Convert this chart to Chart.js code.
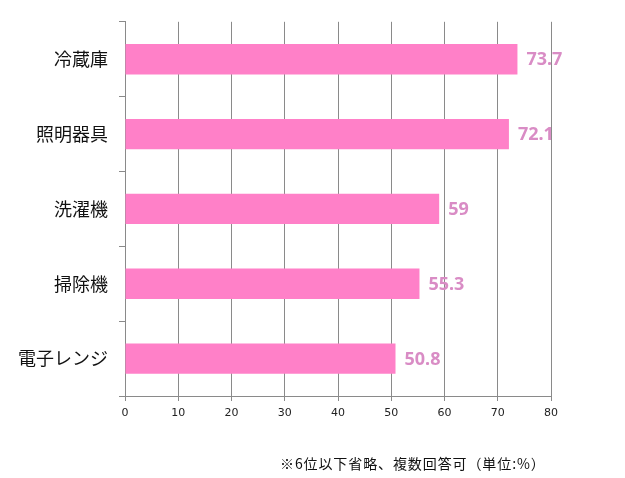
<!DOCTYPE html>
<html>
  <head>
    <title>家電ランキング</title>
    <script src="https://cdn.jsdelivr.net/npm/chart.js@4/dist/chart.umd.min.js"></script>
    <style>
      body {
        margin: 0;
        background: #fff;
      }
      #wrap {
        position: relative;
        width: 625px;
        height: 478px;
      }
      #note {
        position: absolute;
        left: 280px;
        top: 454px;
        font-family: "Noto Sans CJK JP", sans-serif;
        font-size: 14px;
        letter-spacing: 0.9px;
        line-height: 18px;
        color: #111;
        white-space: nowrap;
      }
    </style>
  </head>
  <body>
    <div id="wrap">
      <canvas id="myChart" width="625" height="478"></canvas>
      <div id="note">※6位以下省略、複数回答可（単位:%）</div>
    </div>
    <script>
      const categories = ["冷蔵庫", "照明器具", "洗濯機", "掃除機", "電子レンジ"];
      const values = [73.7, 72.1, 59, 55.3, 50.8];
      const xTicks = [0, 10, 20, 30, 40, 50, 60, 70, 80];

      // value labels at the end of each bar
      const barLabels = {
        id: "barLabels",
        afterDatasetsDraw(chart) {
          const ctx = chart.ctx;
          const meta = chart.getDatasetMeta(0);
          ctx.save();
          ctx.font = "bold 18px 'Noto Sans', sans-serif";
          ctx.fillStyle = "#d98cc5";
          ctx.textAlign = "left";
          ctx.textBaseline = "middle";
          meta.data.forEach((bar, i) => {
            ctx.fillText(String(values[i]), bar.x + 9, bar.y + 1);
          });
          ctx.restore();
        },
      };

      const chart = new Chart(document.getElementById("myChart"), {
        type: "bar",
        data: {
          labels: categories,
          datasets: [
            {
              data: values,
              backgroundColor: "#ff80c8",
              borderWidth: 0,
              categoryPercentage: 1,
              barPercentage: 0.405,
            },
          ],
        },
        options: {
          indexAxis: "y",
          responsive: false,
          animation: false,
          layout: {
            padding: { left: 0, right: 74, top: 13, bottom: 52 },
          },
          plugins: {
            legend: { display: false },
            tooltip: { enabled: false },
          },
          scales: {
            x: {
              min: 0,
              max: 80,
              afterBuildTicks(scale) {
                scale.ticks = xTicks.map((v) => ({ value: v }));
              },
              afterFit(scale) {
                scale.height = 30;
              },
              grid: {
                color: "#8a8a8a",
                lineWidth: 1,
                tickLength: 5,
              },
              border: { color: "#8a8a8a" },
              ticks: {
                padding: 6,
                color: "#222",
                font: { family: "'DejaVu Sans', sans-serif", size: 11 },
              },
            },
            y: {
              afterFit(scale) {
                scale.width = 125;
              },
              grid: {
                drawOnChartArea: false,
                color: "#8a8a8a",
                tickLength: 6,
                offset: true,
              },
              border: { color: "#8a8a8a" },
              ticks: {
                padding: 11,
                color: "#111",
                font: { family: "'Noto Sans CJK JP', sans-serif", size: 18 },
              },
            },
          },
        },
        plugins: [barLabels],
      });
    </script>
  </body>
</html>
